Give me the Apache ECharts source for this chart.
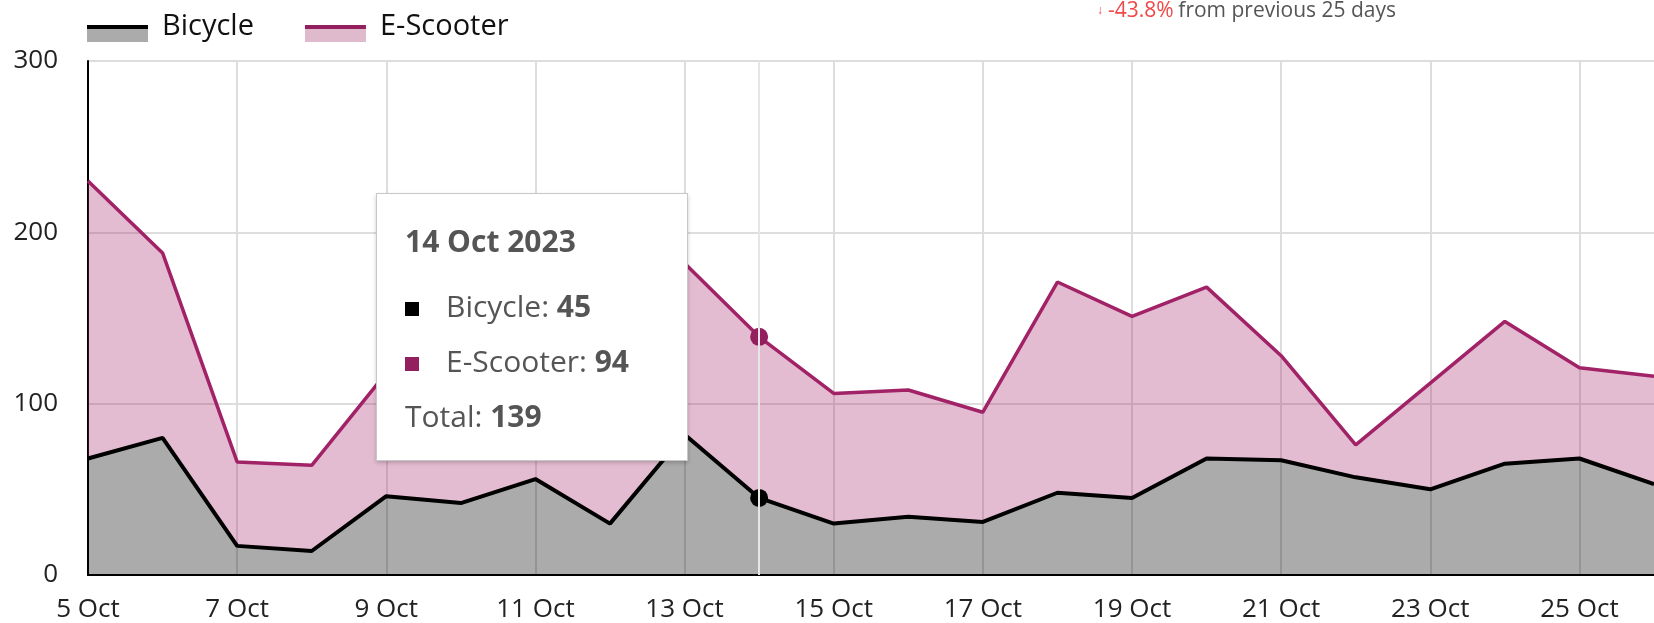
<!DOCTYPE html>
<html>
<head>
<meta charset="utf-8">
<script src="https://cdn.jsdelivr.net/npm/echarts@6/dist/echarts.min.js"></script>
<style>
  html, body { margin: 0; padding: 0; background: #fff; }
  #chart { width: 1654px; height: 623px; }
</style>
</head>
<body>
<div id="chart"></div>
<script>
  // daily trips, stacked: bicycle at the bottom, e-scooter on top
  var days = ['5 Oct', '6 Oct', '7 Oct', '8 Oct', '9 Oct', '10 Oct', '11 Oct', '12 Oct', '13 Oct', '14 Oct', '15 Oct',
    '16 Oct', '17 Oct', '18 Oct', '19 Oct', '20 Oct', '21 Oct', '22 Oct', '23 Oct', '24 Oct', '25 Oct', '26 Oct'];
  var bicycle = [68, 80, 17, 14, 46, 42, 56, 30, 82, 45, 30, 34, 31, 48, 45, 68, 67, 57, 50, 65, 68, 53];
  var eScooter = [162, 108, 49, 50, 72, 85, 86, 78, 100, 94, 76, 74, 64, 123, 106, 100, 61, 19, 62, 83, 53, 63];
  var seriesNames = ['Bicycle', 'E-Scooter'];
  var changeText = '-43.8%';
  var changeNote = 'from previous 25 days';
  var hoverIndex = 9;   // 14 Oct

  var lineColors = ['#000000', '#931f5e'];
  var fillColors = ['#ababab', '#dfbacd'];
  var font = 'Open Sans';

  // legend icon = thin line band over a fill band; the lone moves keep both icons the same box
  var fillIcon = 'path://M0,0 M0,18 L61,18 L61,31 L0,31 Z';
  var lineIcon = 'path://M0,0 M0,14 L61,14 L61,18 L0,18 Z M0,31';

  var chart = echarts.init(document.getElementById('chart'));

  function legendBlock(icon, colors, textColor) {
    return {
      left: 87, top: 9.5, padding: 0, itemGap: 51,
      icon: icon, itemWidth: 61, itemHeight: 31,
      selectedMode: false,
      data: seriesNames.map(function (n, i) {
        return { name: n, itemStyle: { color: colors[i] } };
      }),
      textStyle: { fontFamily: font, fontSize: 29, color: textColor, lineHeight: 30, padding: [4, 0, 0, 9] }
    };
  }

  var option = {
    animation: false,
    title: {
      left: 1097,
      top: 0,
      padding: 0,
      text: '{a|↓}{b|' + changeText + '} {c|' + changeNote + '}',
      textStyle: {
        fontFamily: font,
        fontWeight: 'normal',
        rich: {
          a: { color: '#f04848', fontSize: 12, fontWeight: 'bold', lineHeight: 22, padding: [0, 5, 0, 0] },
          b: { color: '#f04848', fontSize: 21, fontWeight: 'normal', fontFamily: font, lineHeight: 22 },
          c: { color: '#555', fontSize: 21, fontWeight: 'normal', fontFamily: font, lineHeight: 22 }
        }
      }
    },
    legend: [
      legendBlock(fillIcon, fillColors, '#111'),
      legendBlock(lineIcon, lineColors, 'transparent')
    ],
    grid: { left: 88, top: 61, bottom: 47, right: -9, containLabel: false },
    tooltip: {
      trigger: 'axis',
      alwaysShowContent: true,
      transitionDuration: 0,
      position: [376, 193],
      padding: [27, 28, 18, 28],
      backgroundColor: '#fff',
      borderColor: '#c8c8c8',
      borderWidth: 1,
      borderRadius: 0,
      shadowBlur: 4,
      shadowOffsetX: 0,
      shadowOffsetY: 2,
      shadowColor: 'rgba(0,0,0,0.2)',
      extraCssText: 'width:312px;height:268px;box-sizing:border-box;',
      textStyle: { fontFamily: font, fontSize: 30, color: '#555' },
      axisPointer: { type: 'line', lineStyle: { color: '#e6e6e6', width: 2, type: 'solid' } },
      formatter: function (params) {
        var total = 0;
        var rows = params.map(function (p) {
          total += p.value;
          return '<div style="line-height:55px;white-space:nowrap">' +
            '<span style="display:inline-block;width:14px;height:14px;margin-right:27px;vertical-align:middle;background:' +
            p.color + '"></span>' + p.seriesName + ': <b>' + p.value + '</b></div>';
        }).join('');
        return '<div style="font-weight:bold;line-height:40px;margin-bottom:17px">' + params[0].axisValue + ' 2023</div>' +
          rows + '<div style="line-height:55px">Total: <b>' + total + '</b></div>';
      }
    },
    xAxis: {
      type: 'category',
      data: days,
      boundaryGap: false,
      axisLine: { lineStyle: { color: '#000', width: 2 } },
      axisTick: { show: false },
      axisLabel: { interval: 1, margin: 22, fontFamily: font, fontSize: 26, color: '#222' },
      splitLine: { show: true, interval: 1, lineStyle: { color: '#dddddd', width: 2 } }
    },
    yAxis: {
      type: 'value',
      min: 0, max: 300, interval: 100,
      axisLine: { show: true, lineStyle: { color: '#000', width: 2 } },
      axisTick: { show: false },
      axisLabel: { margin: 30, fontFamily: font, fontSize: 26, color: '#222' },
      splitLine: { lineStyle: { color: '#dddddd', width: 2 } }
    },
    series: [
      {
        name: seriesNames[0], type: 'line', stack: 'total', data: bicycle,
        symbol: 'circle', symbolSize: 18, showSymbol: false,
        itemStyle: { color: lineColors[0] },
        lineStyle: { color: lineColors[0], width: 4 },
        areaStyle: { color: '#000', opacity: 0.33 },
        emphasis: { scale: false, itemStyle: { borderWidth: 0 }, lineStyle: { width: 4 } },
        z: 3
      },
      {
        name: seriesNames[1], type: 'line', stack: 'total', data: eScooter,
        symbol: 'circle', symbolSize: 18, showSymbol: false,
        itemStyle: { color: lineColors[1] },
        lineStyle: { color: lineColors[1], width: 3.5 },
        areaStyle: { color: lineColors[1], opacity: 0.3 },
        emphasis: { scale: false, itemStyle: { borderWidth: 0 }, lineStyle: { width: 3.5 } },
        z: 2
      }
    ]
  };

  chart.setOption(option);
  chart.dispatchAction({ type: 'showTip', seriesIndex: 0, dataIndex: hoverIndex });
</script>
</body>
</html>
